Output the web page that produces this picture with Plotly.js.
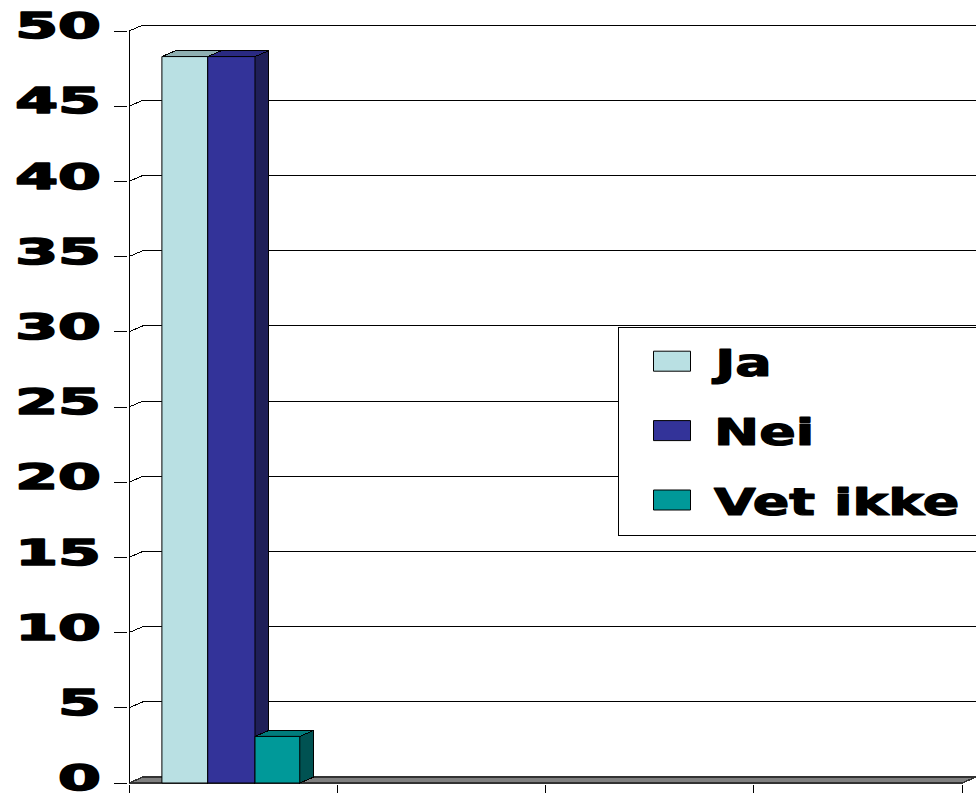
<!DOCTYPE html>
<html>
<head>
<meta charset="utf-8">
<script src="https://cdn.plot.ly/plotly-3.0.1.min.js"></script>
<style>
  html, body { margin: 0; padding: 0; background: #ffffff; }
  #chart { width: 976px; height: 800px; }
</style>
</head>
<body>
<div id="chart"></div>
<script>
// ---------------- data ----------------
const categories = [0, 1, 2, 3];              // four unlabelled category slots
const categoryLabels = ["", "", "", ""];
const seriesNames = ["Ja", "Nei", "Vet ikke"];
const ja      = [48.3, null, null, null];
const nei     = [48.3, null, null, null];
const vetIkke = [3.1, null, null, null];
const yTicks  = [0, 5, 10, 15, 20, 25, 30, 35, 40, 45, 50];

// ---------------- styling ----------------
const W = 976, H = 800;
const frontColors = ["#B9E0E3", "#333399", "#009999"];
const topColors   = ["#8FB0B2", "#2A2A82", "#007C7C"];
const sideColors  = ["#7C9A9C", "#1F1F58", "#005252"];
const barOffsets  = [-0.342, -0.122, 0.105];
const barWidths   = [0.220, 0.227, 0.215];
const DX = 14, DY = 6;                 // depth of the 3-D look, in pixels
const padL = 1, padB = 1;              // tiny room around the front axes

// plot area (pixels)
const plotL = 128, plotR = W, plotT = 25, plotB = 784;
const xFront0 = plotL + padL, xFront1 = plotR - DX;
const yFront0 = plotB - padB, yFront1 = plotT + DY;
const xMin = -0.5, xMax = categories.length - 0.5;
const yMin = 0, yMax = yTicks[yTicks.length - 1];
const pxX = (xFront1 - xFront0) / (xMax - xMin);
const pxY = (yFront0 - yFront1) / (yMax - yMin);
const dxU = DX / pxX, dyU = DY / pxY;
const xRange = [xMin - padL / pxX, xMax + dxU];
const yRange = [yMin - padB / pxY, yMax + dyU];

const seriesValues = [ja, nei, vetIkke];

// ---------------- traces ----------------
const data = seriesValues.map((vals, i) => ({
  type: "bar",
  name: seriesNames[i],
  x: categories,
  y: vals,
  offset: barOffsets[i],
  width: barWidths[i],
  marker: { color: frontColors[i], line: { color: "#000000", width: 1 } },
  legendgroup: "g" + i,
  hoverinfo: "skip"
}));

// ---------------- shapes: back wall grid, floor, depth faces ----------------
const shapes = [];
yTicks.forEach(v => {
  shapes.push({
    type: "path", xref: "x", yref: "y", layer: "below",
    path: `M${xMin},${v} L${xMin + dxU},${v + dyU} L${xRange[1]},${v + dyU}`,
    line: { color: "#000000", width: 1 }
  });
});
shapes.push({
  type: "path", xref: "x", yref: "y", layer: "below",
  path: `M${xMin},0 L${xMax},0 L${xMax + dxU},${dyU} L${xMin + dxU},${dyU} Z`,
  fillcolor: "#808080",
  line: { color: "#333333", width: 1.5 }
});
shapes.push({
  type: "line", xref: "x", yref: "y", layer: "below",
  x0: xMin, x1: xMin, y0: 0, y1: yMax,
  line: { color: "#000000", width: 1 }
});
seriesValues.forEach((vals, i) => {
  vals.forEach((v, k) => {
    if (v === null || v === undefined) return;
    const xl = categories[k] + barOffsets[i];
    const xr = xl + barWidths[i];
    shapes.push({
      type: "path", xref: "x", yref: "y", layer: "below",
      path: `M${xr},0 L${xr},${v} L${xr + dxU},${v + dyU} L${xr + dxU},${dyU} Z`,
      fillcolor: sideColors[i], line: { color: "#000000", width: 1 }
    });
    shapes.push({
      type: "path", xref: "x", yref: "y", layer: "below",
      path: `M${xl},${v} L${xr},${v} L${xr + dxU},${v + dyU} L${xl + dxU},${v + dyU} Z`,
      fillcolor: topColors[i], line: { color: "#000000", width: 1 }
    });
  });
});

// ---------------- layout ----------------
const layout = {
  width: W, height: H,
  margin: { l: plotL, r: W - plotR, t: plotT, b: H - plotB, pad: 0 },
  paper_bgcolor: "#ffffff",
  plot_bgcolor: "#ffffff",
  barmode: "overlay",
  showlegend: true,
  font: { family: "DejaVu Sans", color: "#000000" },
  xaxis: {
    range: xRange, fixedrange: true,
    showgrid: false, zeroline: false, showline: false,
    tickmode: "array",
    tickvals: categories.map(c => c - 0.5).concat([xMax]),
    ticktext: categoryLabels.concat([""]),
    ticks: "outside", ticklen: 8, tickwidth: 1, tickcolor: "#000000",
    showticklabels: false
  },
  yaxis: {
    range: yRange, fixedrange: true,
    showgrid: false, zeroline: false, showline: false,
    tickmode: "array", tickvals: yTicks, ticktext: yTicks.map(String),
    ticks: "outside", ticklen: 13, tickwidth: 1, tickcolor: "#000000",
    ticklabelstandoff: 6,
    ticklabeloverflow: "allow",
    tickfont: { family: "DejaVu Sans", size: 35, weight: "bold", color: "#000000" }
  },
  legend: {
    x: (618 - plotL) / (plotR - plotL), xanchor: "left",
    y: 1 - (327 - plotT) / (plotB - plotT), yanchor: "top",
    bgcolor: "#ffffff", bordercolor: "#000000", borderwidth: 1,
    font: { family: "DejaVu Sans", size: 38, weight: "bold", color: "#000000" },
    itemwidth: 80,
    indentation: 5,
    tracegroupgap: 17,
    traceorder: "grouped"
  },
  shapes: shapes
};

function stretchText(nodes, s, anchor, strokeW, shiftY) {
  nodes.forEach(t => {
    const b = t.getBBox();
    const a = anchor === "end" ? b.x + b.width : b.x;
    const prev = t.getAttribute("transform") || "";
    t.setAttribute("transform", prev + ` translate(0,${shiftY}) translate(${a},0) scale(${s},1) translate(${-a},0)`);
    t.style.stroke = "#000000";
    t.style.strokeWidth = strokeW + "px";
    t.style.strokeLinejoin = "round";
  });
}

const gd = document.getElementById("chart");
Plotly.newPlot(gd, data, layout, { staticPlot: true, displayModeBar: false }).then(() => {
  stretchText(gd.querySelectorAll(".ytick text"), 1.76, "end", 1.6, -5);
  stretchText(gd.querySelectorAll(".legendtext"), 1.42, "start", 1.2, 0);
  gd.querySelectorAll(".legendpoints path").forEach(p => p.setAttribute("d", "M21.5,10H-15.5V-10H21.5Z"));
  gd.querySelectorAll(".legend g.traces").forEach(g => {
    const prev = g.getAttribute("transform") || "";
    g.setAttribute("transform", prev + " translate(0,2)");
  });
  const bg = gd.querySelector(".legend .bg");
  if (bg) {
    bg.setAttribute("width", 420);
    bg.setAttribute("height", parseFloat(bg.getAttribute("height")) + 5);
  }
  document.querySelectorAll('clipPath[id^="legend"] rect').forEach(r => {
    r.setAttribute("width", 420);
    r.setAttribute("height", parseFloat(r.getAttribute("height")) + 5);
  });
  gd.querySelectorAll(".shapelayer path").forEach(p => { p.style.shapeRendering = "crispEdges"; });
});
</script>
</body>
</html>
